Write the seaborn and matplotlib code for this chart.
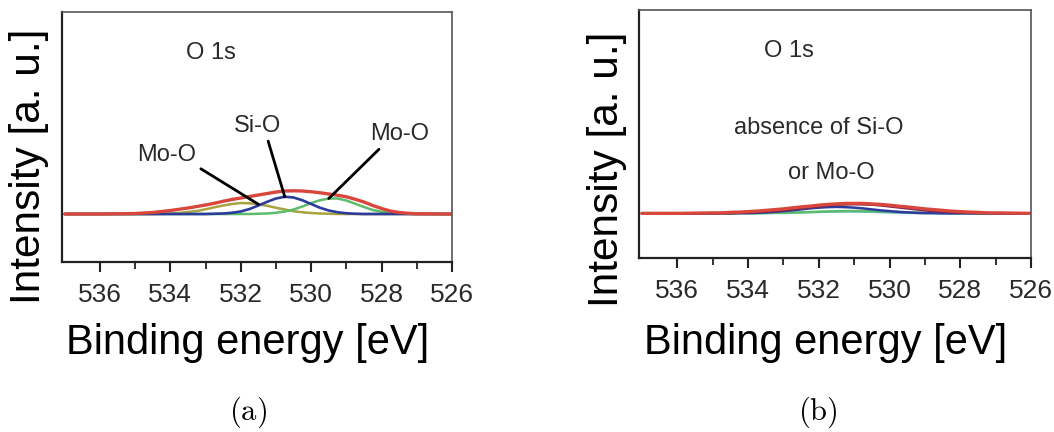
import matplotlib
matplotlib.use("Agg")
import matplotlib.pyplot as plt
import seaborn as sns
import pandas as pd

# Binding-energy grid shared by both O 1s spectra (eV)
energy = [537.0, 536.0, 535.0, 534.75, 534.5, 534.25, 534.0, 533.75, 533.5, 533.25,
          533.0, 532.75, 532.5, 532.25, 532.0, 531.75, 531.5, 531.25, 531.0, 530.75,
          530.5, 530.25, 530.0, 529.75, 529.5, 529.25, 529.0, 528.75, 528.5, 528.25,
          528.0, 527.75, 527.5, 527.25, 527.0, 526.0]

# (a) fitted O 1s envelope and its components
envelope_a = [19.2, 19.2, 19.4, 19.6, 19.8, 20.2, 20.6, 21.1, 21.6, 22.2,
              22.8, 23.5, 24.3, 25.0, 25.6, 26.2, 26.8, 27.4, 28.0, 28.4,
              28.5, 28.4, 28.1, 27.7, 27.2, 26.7, 26.1, 25.1, 24.0, 22.6,
              21.4, 20.4, 19.8, 19.5, 19.3, 19.2]
si_o_a = [19.2, 19.2, 19.2, 19.2, 19.2, 19.2, 19.2, 19.2, 19.2, 19.2,
          19.2, 19.3, 19.4, 19.7, 20.2, 21.2, 22.6, 24.1, 25.4, 26.1,
          25.8, 24.7, 23.2, 21.7, 20.6, 19.9, 19.5, 19.3, 19.2, 19.2,
          19.2, 19.2, 19.2, 19.2, 19.2, 19.2]
mo_o_low_a = [19.2, 19.2, 19.2, 19.2, 19.2, 19.2, 19.2, 19.2, 19.2, 19.2,
              19.2, 19.2, 19.2, 19.2, 19.2, 19.2, 19.3, 19.4, 19.7, 20.2,
              21.0, 22.2, 23.6, 24.7, 25.4, 25.4, 24.6, 23.3, 22.0, 20.8,
              20.1, 19.6, 19.4, 19.3, 19.2, 19.2]
mo_o_high_a = [19.2, 19.2, 19.2, 19.2, 19.2, 19.3, 19.4, 19.6, 20.0, 20.4,
               21.1, 21.9, 22.6, 23.2, 23.6, 23.5, 23.1, 22.5, 21.7, 21.0,
               20.3, 19.9, 19.6, 19.4, 19.3, 19.2, 19.2, 19.2, 19.2, 19.2,
               19.2, 19.2, 19.2, 19.2, 19.2, 19.2]

# (b) fitted O 1s envelope and its components
envelope_b = [18.0, 18.0, 18.2, 18.2, 18.4, 18.5, 18.7, 18.9, 19.2, 19.5,
              19.8, 20.2, 20.6, 20.9, 21.3, 21.6, 21.8, 22.0, 22.0, 22.0,
              21.8, 21.6, 21.3, 20.9, 20.6, 20.2, 19.8, 19.5, 19.2, 18.9,
              18.7, 18.5, 18.4, 18.2, 18.2, 18.0]
comp1_b = [18.0, 18.0, 18.0, 18.1, 18.1, 18.2, 18.3, 18.5, 18.7, 18.9,
           19.2, 19.6, 20.0, 20.4, 20.8, 21.2, 21.5, 21.6, 21.7, 21.6,
           21.5, 21.2, 20.8, 20.4, 20.0, 19.6, 19.2, 18.9, 18.7, 18.5,
           18.3, 18.2, 18.1, 18.1, 18.0, 18.0]
comp2_b = [18.0, 18.0, 18.0, 18.0, 18.0, 18.1, 18.1, 18.2, 18.4, 18.6,
           18.9, 19.2, 19.6, 20.0, 20.3, 20.5, 20.6, 20.5, 20.3, 20.0,
           19.6, 19.2, 18.9, 18.6, 18.4, 18.2, 18.1, 18.1, 18.0, 18.0,
           18.0, 18.0, 18.0, 18.0, 18.0, 18.0]
comp3_b = [18.0, 18.0, 18.0, 18.0, 18.01, 18.03, 18.04, 18.07, 18.11, 18.17,
           18.25, 18.35, 18.46, 18.58, 18.71, 18.82, 18.92, 18.98, 19.0, 18.98,
           18.92, 18.82, 18.71, 18.58, 18.46, 18.35, 18.25, 18.17, 18.11, 18.07,
           18.04, 18.03, 18.01, 18.0, 18.0, 18.0]
comp4_b = [18.0, 18.0, 18.0, 18.0, 18.0, 18.0, 18.0, 18.0, 18.05, 18.09,
           18.14, 18.21, 18.30, 18.40, 18.51, 18.60, 18.67, 18.70, 18.69, 18.63,
           18.55, 18.45, 18.34, 18.24, 18.17, 18.10, 18.06, 18.03, 18.02, 18.0,
           18.0, 18.0, 18.0, 18.0, 18.0, 18.0]

xticks = [536, 534, 532, 530, 528, 526]
minor_xticks = [535, 533, 531, 529, 527]
captions = ["(a)", "(b)"]

RED = "#d9473c"
NAVY = "#2c3b9c"
GREEN = "#5cbc6c"
OLIVE = "#aaa23e"
PLUM = "#7d2352"
TEAL = "#5fb8b2"
TXT = "#2a2a2a"

sns.set_theme(style="white")
plt.rcParams["font.family"] = ["Liberation Sans", "DejaVu Sans"]
plt.rcParams["mathtext.fontset"] = "cm"

fig = plt.figure(figsize=(10.54, 4.32), dpi=100)
ax_a = fig.add_axes([0.0588, 0.3935, 0.3700, 0.5787])
ax_b = fig.add_axes([0.6063, 0.4028, 0.3719, 0.5741])

df_a = pd.DataFrame({"E": energy, "env": envelope_a, "sio": si_o_a,
                     "mlo": mo_o_low_a, "mhi": mo_o_high_a})
df_b = pd.DataFrame({"E": energy, "env": envelope_b, "c1": comp1_b,
                     "c2": comp2_b, "c3": comp3_b, "c4": comp4_b})

# components first, envelope on top
sns.lineplot(data=df_a, x="E", y="mhi", ax=ax_a, color=OLIVE, lw=1.8)
sns.lineplot(data=df_a, x="E", y="mlo", ax=ax_a, color=GREEN, lw=1.8)
sns.lineplot(data=df_a, x="E", y="sio", ax=ax_a, color=NAVY, lw=1.9)
sns.lineplot(data=df_a, x="E", y="env", ax=ax_a, color=RED, lw=2.4)

sns.lineplot(data=df_b, x="E", y="c4", ax=ax_b, color=TEAL, lw=1.6)
sns.lineplot(data=df_b, x="E", y="c3", ax=ax_b, color=GREEN, lw=1.6)
sns.lineplot(data=df_b, x="E", y="c2", ax=ax_b, color=NAVY, lw=1.8)
sns.lineplot(data=df_b, x="E", y="c1", ax=ax_b, color=PLUM, lw=1.8)
sns.lineplot(data=df_b, x="E", y="env", ax=ax_b, color=RED, lw=2.4)

for ax in (ax_a, ax_b):
    ax.set_xlim(537.08, 526)
    ax.set_ylim(0, 100)
    ax.set_xticks(xticks)
    ax.set_xticklabels([str(t) for t in xticks])
    ax.set_xticks(minor_xticks, minor=True)
    ax.set_yticks([])
    ax.set_xlabel("")
    ax.set_ylabel("")
    ax.tick_params(axis="x", which="major", direction="out", length=7, width=1.5,
                   color="#222222", labelsize=19, labelcolor=TXT, pad=8, bottom=True)
    ax.tick_params(axis="x", which="minor", direction="out", length=5, width=1.3,
                   color="#222222", bottom=True)
    for side, sp in ax.spines.items():
        sp.set_visible(True)
        sp.set_color("#222222" if side in ("left", "bottom") else "#555555")
        sp.set_linewidth(1.6 if side in ("left", "bottom") else 1.2)
    ax.text(532.85, 83.5, "O 1s", ha="center", va="center", fontsize=17, color=TXT)

# peak assignments in (a)
i_mhi = energy.index(531.5)
i_sio = energy.index(530.75)
i_mlo = energy.index(529.5)
arrow = dict(arrowstyle="-", color="black", lw=2.0, shrinkA=1, shrinkB=0)
ax_a.annotate("Mo-O", xy=(energy[i_mhi], mo_o_high_a[i_mhi]), xytext=(534.10, 42.8),
              ha="center", va="center", fontsize=17, color=TXT,
              arrowprops=dict(arrow, relpos=(1.0, 0.0)))
ax_a.annotate("Si-O", xy=(energy[i_sio], si_o_a[i_sio]), xytext=(531.53, 54.6),
              ha="center", va="center", fontsize=17, color=TXT,
              arrowprops=dict(arrow, relpos=(0.7, 0.0)))
ax_a.annotate("Mo-O", xy=(energy[i_mlo], mo_o_low_a[i_mlo]), xytext=(527.48, 51.2),
              ha="center", va="center", fontsize=17, color=TXT,
              arrowprops=dict(arrow, relpos=(0.22, 0.0)))

ax_b.text(531.99, 52.4, "absence of Si-O", ha="center", va="center", fontsize=17, color=TXT)
ax_b.text(531.65, 34.3, "or Mo-O", ha="center", va="center", fontsize=17, color=TXT)

# axis titles and sub-figure captions
for (xc, yc, cap_x), cap in zip(((29, 166, 248), (607, 169, 818)), captions):
    fig.text(xc / 1054, 1 - yc / 432, "Intensity [a. u.]", rotation=90,
             ha="center", va="center", fontsize=30.5, color="black")
    fig.text(cap_x / 1054, 1 - 412 / 432, r"$\mathrm{%s}$" % cap,
             ha="center", va="center", fontsize=22, color="black")
fig.text(248 / 1054, 1 - 354 / 432, "Binding energy [eV]", ha="center", va="baseline",
         fontsize=30, color="black")
fig.text(826 / 1054, 1 - 354 / 432, "Binding energy [eV]", ha="center", va="baseline",
         fontsize=30, color="black")

fig.savefig("out.png", dpi=100, facecolor="white")
